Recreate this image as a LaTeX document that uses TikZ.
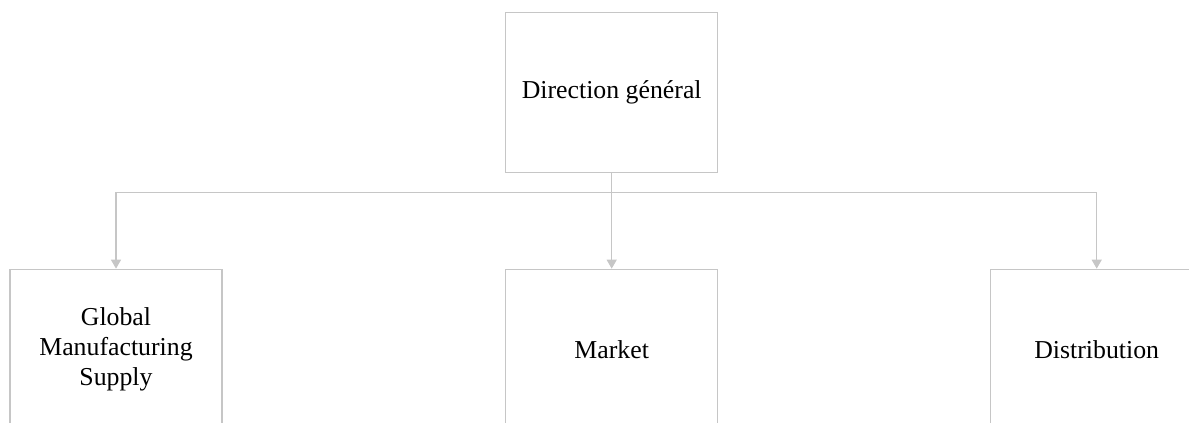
\documentclass[tikz,border=0pt]{standalone}
\usepackage{fontspec}
\setmainfont{Liberation Serif}
\usetikzlibrary{arrows.meta}
\definecolor{linegray}{HTML}{C6C6C6}
\begin{document}
\begin{tikzpicture}[x=1pt,y=-1pt,
  unit/.style={draw=linegray,line width=1.3pt,minimum width=212pt,minimum height=160pt,
    inner sep=0pt,align=center,font=\fontsize{25.8}{30}\selectfont,text=black},
  link/.style={draw=linegray,line width=1.3pt},
  arrowlink/.style={link,-{Triangle[width=10pt,length=9pt]}}]
\useasboundingbox (0,0) rectangle (1189,423);
\clip (0,0) rectangle (1189,423);
\node[unit] (top) at (611.7,92.7) {Direction général};
\node[unit] (gms) at (116,349.3) {Global\\Manufacturing\\Supply};
\node[unit] (mkt) at (611.7,349.3) {Market};
\node[unit] (dist) at (1096.7,349.3) {Distribution};
\coordinate (bus) at (611.7,192.7);
\draw[link] (top.south) -- (bus);
\draw[arrowlink] (bus) -| (gms.north);
\draw[arrowlink] (top.south) -- (mkt.north);
\draw[arrowlink] (bus) -| (dist.north);
\end{tikzpicture}
\end{document}
